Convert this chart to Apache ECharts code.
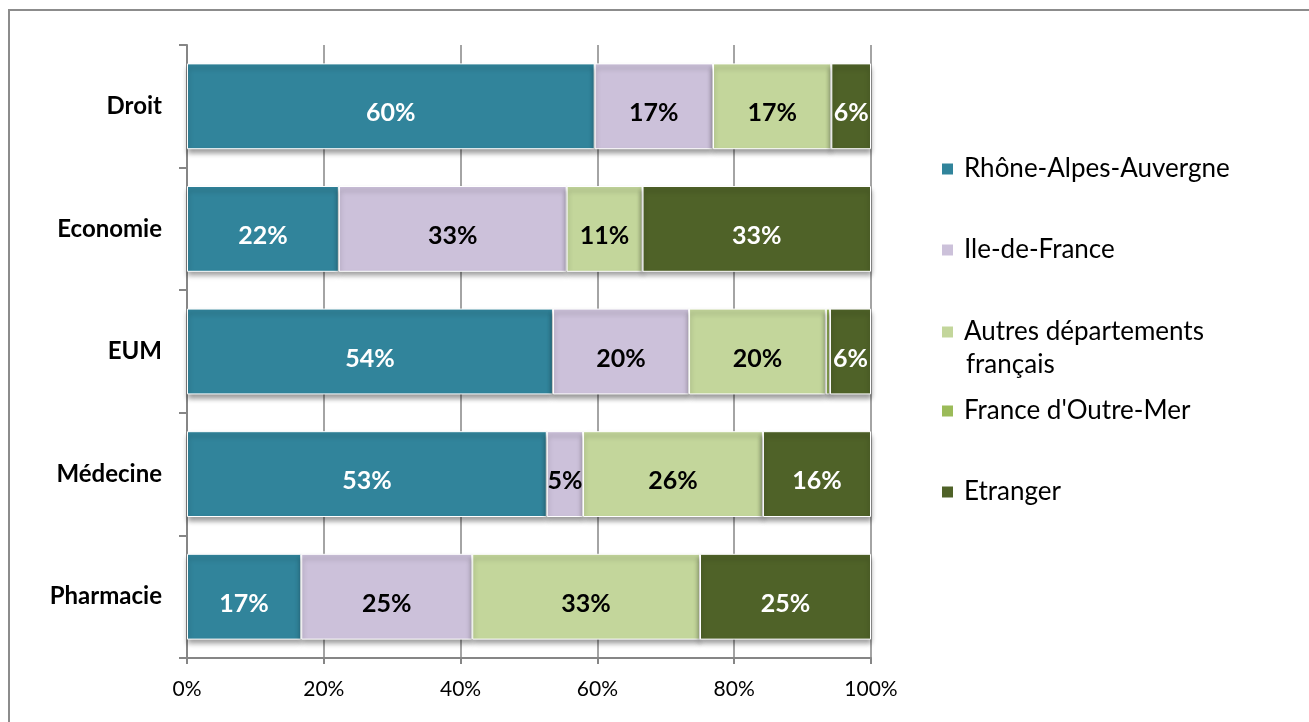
<!DOCTYPE html>
<html>
<head>
<meta charset="utf-8">
<script src="https://cdn.jsdelivr.net/npm/echarts@6/dist/echarts.min.js"></script>
<style>
  html, body { margin: 0; padding: 0; background: #fff; }
  #chart { width: 1309px; height: 722px; }
</style>
</head>
<body>
<div id="chart"></div>
<script>
// categories, top to bottom as drawn
var categories = ['Droit', 'Economie', 'EUM', 'Médecine', 'Pharmacie'];

// shares (%) per category, same order as categories
var rhoneAlpes   = [59.6, 22.2, 53.5, 52.6, 16.7];
var ileDeFrance  = [17.3, 33.3, 19.9, 5.3, 25.0];
var autresDep    = [17.3, 11.1, 20.0, 26.3, 33.3];
var outreMer     = [0, 0, 0.6, 0, 0];
var etranger     = [5.8, 33.4, 6.0, 15.8, 25.0];

var xTicks = [0, 20, 40, 60, 80, 100];

var FONT = 'Lato, "Open Sans", sans-serif';

var seriesDefs = [
    { name: 'Rhône-Alpes-Auvergne', data: rhoneAlpes, color: '#31849B', label: '#ffffff' },
    { name: 'Ile-de-France', data: ileDeFrance, color: '#CCC1DA', label: '#000000' },
    { name: 'Autres départements français', data: autresDep, color: '#C3D69B', label: '#000000' },
    { name: "France d'Outre-Mer", data: outreMer, color: '#9BBB59', label: '#000000' },
    { name: 'Etranger', data: etranger, color: '#4F6228', label: '#ffffff' }
];

var series = seriesDefs.map(function (s) {
    return {
        name: s.name,
        type: 'bar',
        stack: 'total',
        barCategoryGap: '30%',
        data: s.data,
        itemStyle: {
            color: s.color,
            borderColor: '#ffffff',
            borderWidth: 1,
            shadowColor: 'rgba(0,0,0,0.4)',
            shadowBlur: 5,
            shadowOffsetY: 4
        },
        label: {
            show: true,
            position: 'inside',
            color: s.label,
            fontFamily: FONT,
            fontWeight: 'bold',
            fontSize: 25,
            offset: [0, 7],
            formatter: function (p) {
                return p.value >= 3 ? Math.round(p.value) + '%' : '';
            }
        }
    };
});

// one legend per entry so the spacing follows the picture
var legendTops = [147, 228, 310, 389, 470];
var legends = seriesDefs.map(function (s, i) {
    return {
        orient: 'vertical',
        left: 935,
        top: legendTops[i],
        itemWidth: 13,
        itemHeight: 13,
        itemGap: 0,
        selectedMode: false,
        icon: 'rect',
        data: [s.name],
        // second line of the long entry is drawn as a graphic text below
        formatter: s.name === 'Autres départements français' ? function () { return 'Autres départements'; } : null,
        textStyle: {
            fontFamily: FONT,
            fontSize: 26,
            color: '#000',
            lineHeight: 34,
            padding: [0, 0, 0, 5]
        }
    };
});

var chart = echarts.init(document.getElementById('chart'));
chart.setOption({
    animation: false,
    backgroundColor: '#ffffff',
    graphic: [{
        type: 'rect',
        shape: { x: 9, y: 10, width: 1400, height: 800 },
        style: { fill: 'none', stroke: '#8c8c8c', lineWidth: 2 },
        silent: true
    }, {
        type: 'text',
        left: 966,
        top: 352,
        style: { text: 'français', font: '26px ' + FONT, fill: '#000' },
        silent: true
    }],
    legend: legends,
    grid: { left: 187, right: 438, top: 45, bottom: 64 },
    xAxis: {
        type: 'value',
        min: 0,
        max: 100,
        interval: 20,
        axisLine: { show: true, lineStyle: { color: '#868686', width: 2 } },
        axisTick: { show: true, length: 6, lineStyle: { color: '#868686', width: 2 } },
        splitLine: { show: true, lineStyle: { color: '#868686', width: 1.5 } },
        axisLabel: {
            fontFamily: FONT,
            fontSize: 21,
            color: '#000',
            margin: 21,
            formatter: function (v) { return xTicks.indexOf(v) >= 0 ? v + '%' : ''; }
        }
    },
    yAxis: {
        type: 'category',
        inverse: true,
        data: categories,
        axisLine: { show: true, lineStyle: { color: '#868686', width: 2 } },
        axisTick: { show: true, length: 8, lineStyle: { color: '#868686', width: 2 } },
        axisLabel: {
            fontFamily: FONT,
            fontWeight: 'bold',
            fontSize: 24,
            color: '#000',
            margin: 25,
            padding: [8, 0, 0, 0]
        }
    },
    series: series
});
</script>
</body>
</html>
